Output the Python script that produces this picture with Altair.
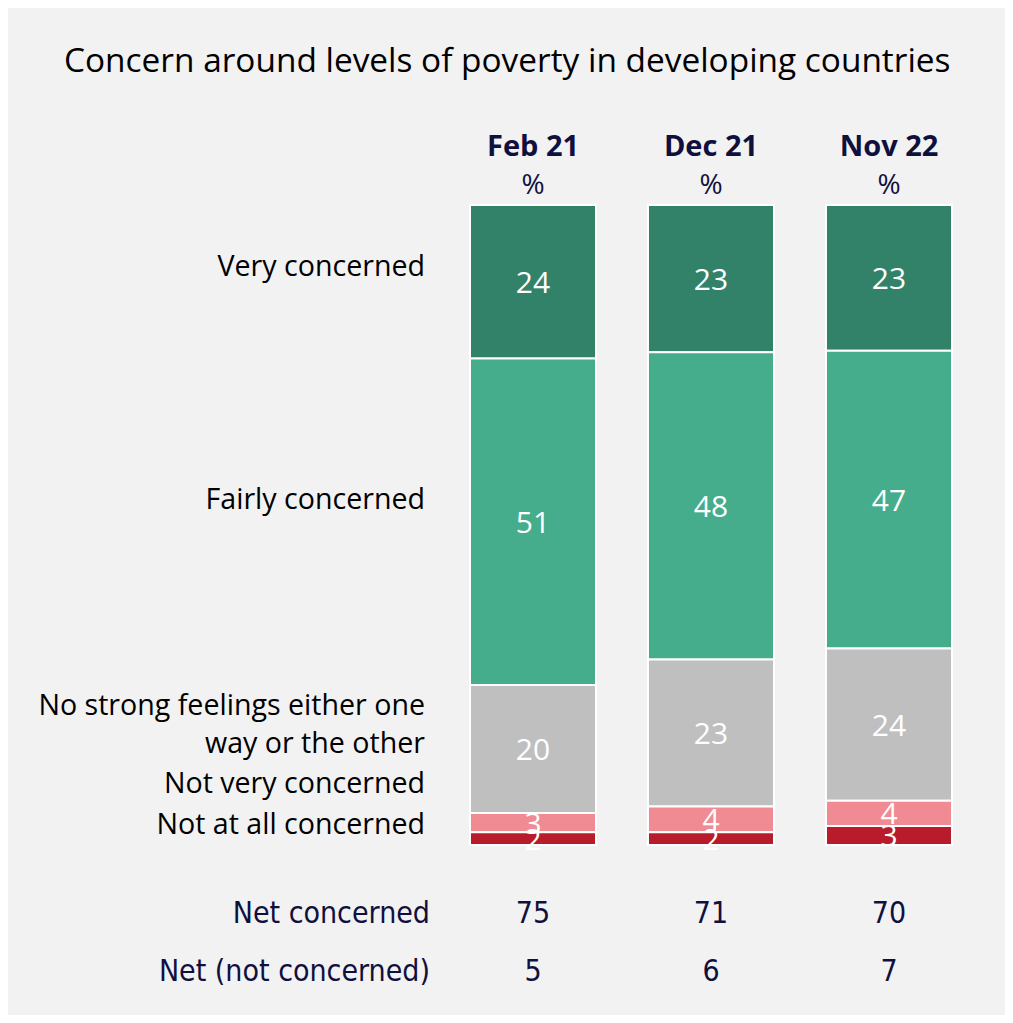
import altair as alt
import pandas as pd

periods = ["Feb 21", "Dec 21", "Nov 22"]
categories = ["Very concerned", "Fairly concerned",
              "No strong feelings either one way or the other",
              "Not very concerned", "Not at all concerned"]
very = [24, 23, 23]
fairly = [51, 48, 47]
no_strong = [20, 23, 24]
not_very = [3, 4, 4]
not_at_all = [2, 2, 3]
net_concerned = [75, 71, 70]
net_not_concerned = [5, 6, 7]

colors = ["#32826a", "#45ad8b", "#bfbfbf", "#f08a93", "#b81b2a"]

series = [very, fairly, no_strong, not_very, not_at_all]
rows = []
for ci, (cat, vals) in enumerate(zip(categories, series)):
    for pi, p in enumerate(periods):
        rows.append({"period": p, "category": cat, "value": vals[pi], "order": ci})
df = pd.DataFrame(rows)

W, H = 482, 640
BG = "#f2f2f2"
NAVY = "#10103f"
FONT = "Open Sans"
NARROW = "DejaVu Sans Condensed, Liberation Sans"

xscale = alt.Scale(domain=periods, paddingInner=0.292, paddingOuter=0)
xenc = alt.X("period:N", scale=xscale, axis=None)
yscale = alt.Scale(domain=[0, 1], nice=False, zero=True)

base = alt.Chart(df).transform_joinaggregate(
    total="sum(value)", groupby=["period"]
).transform_window(
    cum="sum(value)", groupby=["period"], sort=[alt.SortField("order", order="descending")],
    frame=[None, 0]
).transform_calculate(
    y1="datum.cum / datum.total",
    y0="(datum.cum - datum.value) / datum.total",
    mid="(datum.cum - datum.value / 2) / datum.total",
)

bars = base.mark_bar(stroke="white", strokeWidth=2).encode(
    x=xenc,
    y=alt.Y("y0:Q", scale=yscale, axis=None),
    y2="y1:Q",
    color=alt.Color("category:N", scale=alt.Scale(domain=categories, range=colors), legend=None),
)

seg_labels = base.mark_text(color="white", fontSize=30, font=FONT, baseline="middle", dy=2).encode(
    x=xenc,
    y=alt.Y("mid:Q", scale=yscale, axis=None),
    text="value:Q",
)

hdr = pd.DataFrame({"period": periods, "pct": ["%"] * 3})
head1 = alt.Chart(hdr).mark_text(fontSize=29, fontWeight="bold", font=FONT, color=NAVY,
                                 baseline="middle").encode(
    x=xenc, y=alt.value(-58), text="period:N")
head2 = alt.Chart(hdr).mark_text(fontSize=28, font=FONT, color=NAVY, baseline="middle").encode(
    x=xenc, y=alt.value(-19), text="pct:N")

net_df = pd.DataFrame({"period": periods, "nc": net_concerned, "nn": net_not_concerned,
                       "l1": ["Net concerned"] * 3, "l2": ["Net (not concerned)"] * 3})
net1 = alt.Chart(net_df).mark_text(fontSize=30, font=NARROW, color=NAVY, baseline="middle").encode(
    x=xenc, y=alt.value(H + 69), text="nc:Q")
net2 = alt.Chart(net_df).mark_text(fontSize=30, font=NARROW, color=NAVY, baseline="middle").encode(
    x=xenc, y=alt.value(H + 127), text="nn:Q")
netl1 = alt.Chart(net_df.head(1)).mark_text(fontSize=30, font=NARROW, color=NAVY, align="right",
                                            baseline="middle").encode(
    x=alt.value(-40), y=alt.value(H + 69), text="l1:N")
netl2 = alt.Chart(net_df.head(1)).mark_text(fontSize=30, font=NARROW, color=NAVY, align="right",
                                            baseline="middle").encode(
    x=alt.value(-40), y=alt.value(H + 127), text="l2:N")

cat_lines = ["Very concerned", "Fairly concerned", "No strong feelings either one",
             "way or the other", "Not very concerned", "Not at all concerned"]
cat_y = [0.903, 0.539, 0.217, 0.158, 0.095, 0.031]
cat_df = pd.DataFrame({"t": cat_lines, "yy": cat_y})
cat_lab = alt.Chart(cat_df).mark_text(fontSize=28.6, font=FONT, color="black", align="right",
                                      baseline="middle").encode(
    x=alt.value(-45), y=alt.Y("yy:Q", scale=yscale, axis=None), text="t:N")

title_df = pd.DataFrame({"t": ["Concern around levels of poverty in developing countries"]})
title = alt.Chart(title_df).mark_text(
    fontSize=33.4, font=FONT, color="black", align="left", baseline="middle").encode(
    x=alt.value(-406), y=alt.value(-143), text="t:N")

chart = alt.layer(bars, seg_labels, head1, head2, net1, net2, netl1, netl2, cat_lab, title).properties(
    width=W, height=H,
    background=BG,
    padding={"left": 462, "top": 197, "right": 53, "bottom": 170},
    autosize=alt.AutoSizeParams(type="none"),
).configure_view(stroke=None)

chart.save("out.html", embed_options={"renderer": "svg", "actions": False})
